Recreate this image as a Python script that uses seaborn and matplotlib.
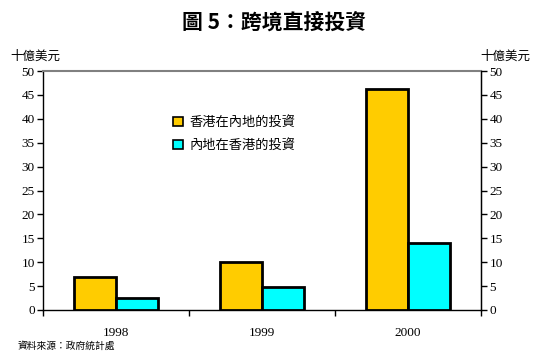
import matplotlib
matplotlib.use('Agg')
import matplotlib.pyplot as plt
import seaborn as sns
import pandas as pd

# Datos del gráfico
years = ['1998', '1999', '2000']
hk_to_mainland = [6.8, 10.1, 46.3]
mainland_to_hk = [2.6, 4.9, 14.0]
series_names = ['香港在內地的投資', '內地在香港的投資']
colors = ['#FFCC00', '#00FFFF']
y_ticks = [0, 5, 10, 15, 20, 25, 30, 35, 40, 45, 50]

# Números en serif, textos chinos en Noto Sans CJK
plt.rcParams['font.family'] = ['Liberation Serif', 'DejaVu Serif']
cjk = ['Noto Sans CJK TC', 'DejaVu Sans']

df = pd.DataFrame({
    'year': years * 2,
    'value': hk_to_mainland + mainland_to_hk,
    'series': [series_names[0]] * 3 + [series_names[1]] * 3,
})

fig = plt.figure(figsize=(5.48, 3.61), dpi=100)
ax = fig.add_axes([43 / 548, 1 - 310 / 361, (481 - 43) / 548, (310 - 71) / 361])

sns.barplot(data=df, x='year', y='value', hue='series', hue_order=series_names,
            palette=colors, width=0.58, edgecolor='black', linewidth=2.0,
            saturation=1, ax=ax, zorder=3)

ax.set_xlim(-0.5, 2.5)
ax.set_ylim(0, 50)
ax.set_xlabel('')
ax.set_ylabel('')

# Ejes y marcas
for side in ['left', 'bottom', 'right']:
    ax.spines[side].set_color('black')
    ax.spines[side].set_linewidth(1.0)
ax.spines['top'].set_color('#808080')
ax.spines['top'].set_linewidth(1.5)

ax.set_xticks([0, 1, 2])
ax.set_xticklabels(years, fontsize=9.5)
ax.tick_params(axis='x', which='major', length=0, pad=12)
ax.set_xticks([-0.5, 0.5, 1.5, 2.5], minor=True)
ax.tick_params(axis='x', which='minor', length=4, width=1, direction='out')

ax.set_yticks(y_ticks)
ax.set_yticklabels([str(v) for v in y_ticks], fontsize=9.5)
ax.tick_params(axis='y', length=4, width=1, direction='out', pad=2)

ax2 = ax.twinx()
ax2.set_ylim(0, 50)
ax2.set_yticks(y_ticks)
ax2.set_yticklabels([str(v) for v in y_ticks], fontsize=9.5)
ax2.tick_params(axis='y', length=4, width=1, direction='out', pad=2)
for side in ['left', 'bottom', 'top']:
    ax2.spines[side].set_visible(False)
ax2.spines['right'].set_color('black')

# Leyenda
handles, labels = ax.get_legend_handles_labels()
for h in handles:
    h.set_linewidth(1.2)
ax.legend(handles, labels, loc='upper left', bbox_to_anchor=(168 / 548, 1 - 111 / 361),
          bbox_transform=fig.transFigure, frameon=False, handlelength=0.7, handleheight=0.7,
          handletextpad=0.5, labelspacing=0.75, borderaxespad=0,
          prop={'family': cjk, 'size': 9.5})

# Títulos y textos
fig.text(0.5, 1 - 22 / 361, '圖 5：跨境直接投資', ha='center', va='center',
         fontsize=15, fontweight='bold', family=cjk)
fig.text(10 / 548, 1 - 56 / 361, '十億美元', ha='left', va='center', fontsize=9, family=cjk)
fig.text(530 / 548, 1 - 56 / 361, '十億美元', ha='right', va='center', fontsize=9, family=cjk)
fig.text(18 / 548, 1 - 346 / 361, '資料來源：政府統計處', ha='left', va='center', fontsize=7, family=cjk)

fig.savefig('out.png', dpi=100)
